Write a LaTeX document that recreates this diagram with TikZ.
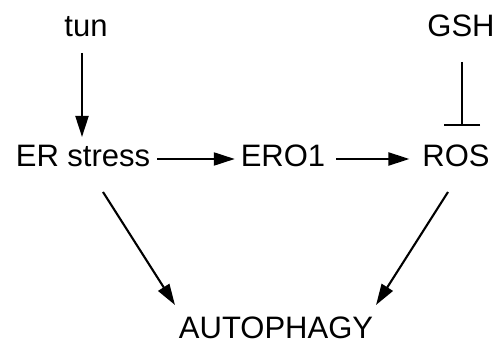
\documentclass[tikz,border=0pt]{standalone}
\usepackage{fontspec}
\setmainfont{Liberation Sans}
\usetikzlibrary{arrows.meta}
\begin{document}
\begin{tikzpicture}[x=1pt,y=1pt,
  lbl/.style={font=\fontsize{31}{36}\selectfont, inner sep=0pt, outer sep=0pt, text height=22pt, text depth=0pt, anchor=base},
  arr/.style={line width=2.1pt, -{Triangle[length=21pt,width=13pt]}},
  inh/.style={line width=2.1pt, -{Bar[width=36pt,line width=2.1pt]}}]
\useasboundingbox (0,0) rectangle (500,345);
\node[lbl] (tun) at (86,308) {tun};
\node[lbl] (gsh) at (461,308) {GSH};
\node[lbl] (er) at (83,178) {ER stress};
\node[lbl] (ero) at (283,178) {ERO1};
\node[lbl] (ros) at (456,178) {ROS};
\node[lbl] (auto) at (276,7) {AUTOPHAGY};
\draw[arr] ([xshift=-4pt,yshift=-16pt]tun.south) -- ([xshift=-1pt,yshift=8pt]er.north);
\draw[arr] ([xshift=7pt,yshift=-3pt]er.east) -- ([xshift=-6pt,yshift=-3pt]ero.west);
\draw[arr] ([xshift=11pt,yshift=-3pt]ero.east) -- ([xshift=-13pt,yshift=-3pt]ros.west);
\draw[inh] ([xshift=1pt,yshift=-25pt]gsh.south) -- ([xshift=6pt,yshift=19pt]ros.north);
\draw[arr] ([xshift=20pt,yshift=-25pt]er.south) -- ([xshift=-4pt,yshift=11pt]auto.north west);
\draw[arr] ([xshift=-8pt,yshift=-25pt]ros.south) -- ([xshift=3pt,yshift=11pt]auto.north east);
\end{tikzpicture}
\end{document}
